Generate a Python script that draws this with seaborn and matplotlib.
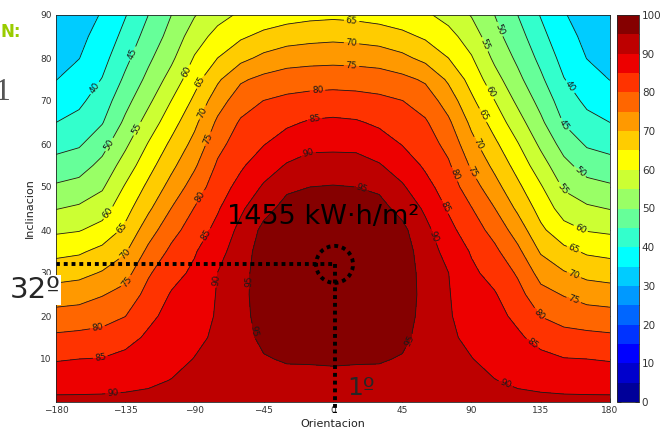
import numpy as np
import pandas as pd
import matplotlib
matplotlib.use("Agg")
import matplotlib.pyplot as plt
from matplotlib.colors import ListedColormap
from matplotlib.patches import Ellipse
from matplotlib.ticker import MultipleLocator
import seaborn as sns

# inclinacion (grados) de cada fila
inclinacion = [0, 5, 10, 15, 20, 25, 30, 35, 40, 45, 50, 55, 60, 65, 70, 75, 80, 85, 90]

# % de la irradiacion maxima, una lista por |orientacion| (simetrico)
orientacion_abs = [0, 15, 30, 45, 60, 75, 90, 105, 120, 135, 150, 165, 180]
az_000 = [91, 93.4, 95.8, 97.5, 98.8, 99.6, 100, 99.9, 99.1, 97.5, 95.3, 92.0, 88.8, 85.9, 82.2, 78.0, 73.5, 68.8, 64.0]
az_015 = [91, 93.3, 95.6, 97.3, 98.5, 99.3, 99.7, 99.6, 98.8, 97.2, 95.0, 91.9, 88.7, 85.5, 81.9, 77.8, 73.3, 68.4, 63.7]
az_030 = [91, 93.3, 95.5, 97.1, 98.2, 98.9, 99.2, 99.0, 98.2, 96.5, 94.2, 90.4, 87.2, 84.2, 81.2, 77.4, 72.8, 67.7, 63.0]
az_045 = [91, 92.8, 94.6, 96.2, 97.1, 97.6, 97.7, 97.3, 96.2, 93.5, 90.6, 87.7, 84.8, 82.5, 80.1, 76.3, 71.2, 66.3, 62.0]
az_060 = [91, 91.9, 92.6, 93.1, 93.4, 93.5, 93.2, 92.6, 91.3, 89.2, 86.6, 84.3, 82.4, 80.6, 77.8, 74.3, 68.6, 64.3, 60.8]
az_075 = [91, 90.9, 90.8, 90.6, 90.4, 90.3, 90.05, 88.3, 86.4, 84.5, 82.6, 80.7, 78.5, 75.9, 72.8, 69.2, 65.0, 61.7, 58.3]
az_090 = [91, 90.5, 90.1, 89.2, 88.1, 87.0, 85.9, 84.6, 82.4, 80.2, 77.3, 74.3, 71.5, 68.9, 66.0, 63.2, 60.4, 57.6, 54.7]
az_105 = [91, 90.1, 88.9, 87.7, 86.5, 85.4, 83.4, 81.1, 78.3, 75.1, 71.8, 68.8, 66.0, 63.0, 60.1, 56.9, 54.0, 51.7, 50.0]
az_120 = [91, 89.4, 87.6, 85.8, 83.9, 81.7, 79.4, 76.2, 72.7, 69.1, 66.1, 63.2, 60.3, 57.1, 54.0, 51.3, 49.0, 47.0, 45.0]
az_135 = [91, 88.8, 86.3, 83.3, 79.9, 76.7, 73.2, 69.5, 66.0, 63.2, 60.5, 57.2, 54.0, 51.0, 48.4, 45.9, 43.7, 41.6, 39.7]
az_150 = [91, 88.3, 85.2, 81.7, 78.2, 74.7, 70.4, 66.4, 61.7, 57.8, 54.4, 51.4, 48.1, 44.7, 42.5, 40.2, 38.3, 36.5, 35.3]
az_165 = [91, 88.1, 85.0, 81.3, 77.3, 72.9, 68.6, 64.3, 59.7, 55.8, 51.7, 47.9, 44.4, 41.5, 39.0, 36.9, 34.9, 34.0, 33.2]
az_180 = [91, 88.0, 84.6, 80.9, 76.8, 72.4, 67.9, 63.6, 59.1, 54.8, 50.7, 46.8, 43.3, 40.0, 37.3, 34.9, 33.8, 32.7, 31.5]

# optimo marcado en el grafico
opt_orientacion = 1
opt_inclinacion = 32
texto_max = '1455 kW·h/m²'

# sitios aproximados de las etiquetas de las curvas (orientacion, inclinacion)
posiciones_etiquetas = [
    (-153, 72.6), (-130, 81), (-145, 59.8), (-127, 63.5), (-146, 44), (-96, 77),
    (-137, 40.5), (-86, 74.4), (-135, 34.2), (-85, 67.4), (-134, 28), (-81, 61.2),
    (-153, 17.2), (-86, 47.7), (-151, 10.2), (-82, 38.8), (-143, 1.9), (-75.6, 28.4),
    (-53, 28), (-54, 16.3), (-17, 58.6), (-12, 66), (-10, 72),
    (12, 88), (12, 83), (12, 78), (17.5, 48.6), (49, 14.4),
    (107, 86.5), (97.5, 83), (102, 72), (97.5, 66.7), (93.5, 60), (91, 53.5),
    (78, 52.8), (73, 45.4), (64, 38.4), (152, 72.8), (150, 64.4), (158.5, 52.8),
    (148, 49.4), (160.5, 40), (156, 35), (156, 29), (156, 23.3), (133, 20.2),
    (129, 13.3), (112, 4),
]

perfiles = [az_000, az_015, az_030, az_045, az_060, az_075, az_090,
            az_105, az_120, az_135, az_150, az_165, az_180]
orientacion = [-o for o in orientacion_abs[::-1]] + orientacion_abs[1:]
columnas = perfiles[::-1] + perfiles[1:]
df = pd.DataFrame(np.array(columnas).T, index=inclinacion, columns=orientacion)

# jet de 20 colores (tipo MATLAB), rojos finales algo mas oscuros como en la imagen
jet20 = ListedColormap([
    (0, 0, .6), (0, 0, .8), (0, 0, 1), (0, .2, 1), (0, .4, 1), (0, .6, 1), (0, .8, 1),
    (0, 1, 1), (.2, 1, .8), (.4, 1, .6), (.6, 1, .4), (.8, 1, .2), (1, 1, 0), (1, .8, 0),
    (1, .6, 0), (1, .4, 0), (1, .2, 0), (.93, 0, 0), (.74, 0, 0), (.52, 0, 0)])

sns.set_theme(style='white')
plt.rcParams['font.family'] = ['DejaVu Sans']

W, H = 661, 430
fig = plt.figure(figsize=(W / 100, H / 100), dpi=100)
ax = fig.add_axes([56 / W, 1 - 402 / H, (610 - 56) / W, (402 - 15) / H])
cax = fig.add_axes([617 / W, 1 - 402 / H, 22 / W, (402 - 15) / H])

X, Y = np.meshgrid(df.columns.values, df.index.values)
Z = df.values
cf = ax.contourf(X, Y, Z, levels=np.arange(0, 101, 5), cmap=jet20, vmin=0, vmax=100)
cs = ax.contour(X, Y, Z, levels=np.arange(35, 100, 5), colors='#1a1a1a', linewidths=0.6)
ax.clabel(cs, fmt='%d', fontsize=6.5, inline=True, inline_spacing=2,
          manual=posiciones_etiquetas)

ax.set_xlim(-180, 180)
ax.set_ylim(0, 90)
ax.set_xticks(range(-180, 181, 45))
ax.set_yticks(range(10, 91, 10))
ax.tick_params(labelsize=6.5, labelcolor='#333333', direction='in', length=3, width=0.5,
               top=True, right=True, bottom=True, left=True, pad=3)
for s in ax.spines.values():
    s.set_linewidth(0.6)
    s.set_color('#222222')

cb = fig.colorbar(cf, cax=cax, ticks=range(0, 101, 10))
cb.ax.yaxis.set_minor_locator(MultipleLocator(5))
cb.ax.tick_params(which='both', direction='in', left=True, right=True, length=3,
                  width=0.6, labelsize=7.5, labelcolor='#333333', pad=2)
cb.outline.set_linewidth(0.6)

# lineas punteadas del optimo
estilo = dict(color='black', lw=2.8, dashes=(1, 1), dash_capstyle='butt', clip_on=False)
ax.plot([-180, opt_orientacion], [opt_inclinacion, opt_inclinacion], **estilo)
ax.plot([opt_orientacion, opt_orientacion], [opt_inclinacion, -2.6], **estilo)
ax.add_patch(Ellipse((opt_orientacion, opt_inclinacion), width=24, height=8.6, fill=False,
                     lw=2.8, linestyle=(0, (1, 1)), edgecolor='black'))

ax.text(-6.5, 41.5, texto_max, fontsize=19.5, ha='center', va='baseline', color='black')
fig.text(10 / W, 1 - 298 / H, f'{opt_inclinacion}º', fontsize=21, ha='left', va='baseline',
         bbox=dict(facecolor='white', edgecolor='none', pad=0.5), zorder=5)
fig.text(347 / W, 1 - 395 / H, f'{opt_orientacion}º', fontsize=18, ha='left', va='baseline')

fig.text(333 / W, 1 - 424 / H, 'Orientacion', fontsize=8, ha='center', va='center', color='#222222')
fig.text(30 / W, 1 - 208 / H, 'Inclinacion', fontsize=8, ha='center', va='center',
         rotation=90, color='#222222')

# restos de la diapositiva
fig.text(0, 1 - 37 / H, 'N:', fontsize=12, fontweight='bold', color='#99cc00',
         ha='left', va='baseline')
fig.text(-6 / W, 1 - 100 / H, '1', fontsize=23, family='Liberation Serif', color='#555555',
         ha='left', va='baseline')

fig.savefig('out.png', dpi=100)
